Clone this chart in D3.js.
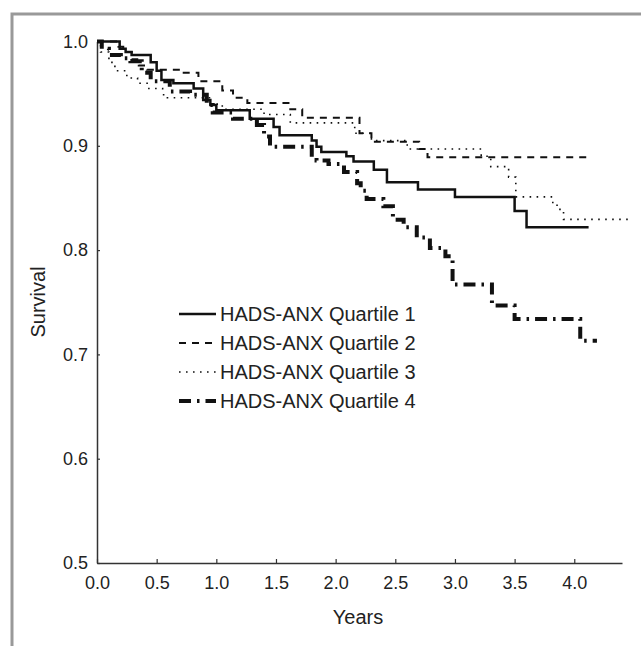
<!DOCTYPE html>
<html>
<head>
<meta charset="utf-8">
<script src="https://cdn.jsdelivr.net/npm/d3@7"></script>
<style>
  body { margin: 0; background: #fff; }
  text { font-family: "Liberation Sans", Arial, sans-serif; fill: #222; }
</style>
</head>
<body>
<script>
// Kaplan-Meier steps: [years], [survival after step]
var q1Years = [0, 0.19, 0.24, 0.29, 0.45, 0.50, 0.54, 0.64, 0.81, 0.89, 0.95, 1.00, 1.28, 1.48, 1.53, 1.80, 1.84, 1.88, 2.09, 2.15, 2.32, 2.43, 2.69, 3.00, 3.50, 3.60, 4.12];
var q1Surv  = [1.0, 0.993, 0.990, 0.987, 0.980, 0.972, 0.963, 0.960, 0.955, 0.944, 0.939, 0.934, 0.926, 0.918, 0.910, 0.905, 0.899, 0.894, 0.890, 0.885, 0.877, 0.865, 0.858, 0.851, 0.8375, 0.822, 0.822];

var q2Years = [0, 0.18, 0.22, 0.29, 0.35, 0.42, 0.71, 0.85, 1.05, 1.14, 1.26, 1.62, 1.72, 2.20, 2.30, 2.70, 2.77, 4.11];
var q2Surv  = [1.0, 0.995, 0.990, 0.983, 0.977, 0.973, 0.970, 0.962, 0.953, 0.946, 0.941, 0.935, 0.927, 0.912, 0.904, 0.897, 0.889, 0.889];

var q3Years = [0, 0.03, 0.10, 0.15, 0.25, 0.34, 0.42, 0.55, 0.59, 0.95, 1.05, 1.40, 1.62, 2.16, 2.30, 2.60, 3.22, 3.30, 3.45, 3.51, 3.82, 3.88, 3.91, 4.45];
var q3Surv  = [1.0, 0.990, 0.980, 0.972, 0.965, 0.960, 0.955, 0.949, 0.946, 0.940, 0.935, 0.930, 0.922, 0.912, 0.905, 0.897, 0.890, 0.880, 0.870, 0.851, 0.843, 0.837, 0.8295, 0.8295];

var q4Years = [0, 0.04, 0.10, 0.20, 0.28, 0.375, 0.45, 0.61, 0.78, 0.92, 0.97, 1.14, 1.34, 1.40, 1.45, 1.80, 1.84, 1.94, 2.07, 2.18, 2.21, 2.26, 2.40, 2.48, 2.57, 2.68, 2.79, 2.92, 2.98, 3.31, 3.50, 4.05, 4.19];
var q4Surv  = [1.0, 0.993, 0.987, 0.984, 0.981, 0.970, 0.962, 0.952, 0.949, 0.939, 0.932, 0.926, 0.920, 0.909, 0.899, 0.889, 0.886, 0.8825, 0.875, 0.864, 0.857, 0.849, 0.842, 0.829, 0.822, 0.812, 0.802, 0.794, 0.767, 0.747, 0.734, 0.713, 0.713];

var legendLabels = ["HADS-ANX Quartile 1", "HADS-ANX Quartile 2", "HADS-ANX Quartile 3", "HADS-ANX Quartile 4"];
var xTicks = [0, 0.5, 1.0, 1.5, 2.0, 2.5, 3.0, 3.5, 4.0];
var yTicks = [0.5, 0.6, 0.7, 0.8, 0.9, 1.0];

var KM = {};    // chart scope

// line look per quartile
KM.styles = [
    { width: 2.5, dash: null },
    { width: 2, dash: "7,6" },
    { width: 1.6, dash: "1.6,5.4" },
    { width: 4, dash: "12,6,2.5,6" }
];

KM.svg = d3.select("body").append("svg")
    .attr("width", 641)
    .attr("height", 646);

// grey frame, only top & left edges show
KM.svg.append("rect")
    .attr("x", 12).attr("y", 14)
    .attr("width", 700).attr("height", 700)
    .style("fill", "none")
    .style("stroke", "#999")
    .style("stroke-width", 3);

KM.x = d3.scaleLinear().domain([0, 4.4]).range([97, 622]);
KM.y = d3.scaleLinear().domain([0.5, 1.0]).range([563, 41.5]);

/* axes */
KM.xAxis = KM.svg.append("g")
    .attr("transform", "translate(0,563)")
    .call(d3.axisBottom(KM.x)
        .tickValues(xTicks)
        .tickFormat(d3.format(".1f"))
        .tickSizeInner(-4)
        .tickSizeOuter(0)
        .tickPadding(13));

KM.yAxis = KM.svg.append("g")
    .attr("transform", "translate(97,0)")
    .call(d3.axisLeft(KM.y)
        .tickValues(yTicks)
        .tickFormat(d3.format(".1f"))
        .tickSizeInner(-3)
        .tickSizeOuter(0)
        .tickPadding(9));

KM.svg.selectAll(".domain")
    .style("stroke", "#333")
    .style("stroke-width", 1.5);
KM.svg.selectAll(".tick line")
    .style("stroke", "#333")
    .style("stroke-width", 1.2);
KM.svg.selectAll(".tick text")
    .style("font-size", "18px")
    .style("font-family", "'Liberation Sans', Arial, sans-serif")
    .style("fill", "#222");

KM.svg.append("text")
    .attr("x", 358).attr("y", 624)
    .attr("text-anchor", "middle")
    .style("font-size", "20px")
    .text("Years");

KM.svg.append("text")
    .attr("transform", "translate(45,302) rotate(-90)")
    .attr("text-anchor", "middle")
    .style("font-size", "20px")
    .text("Survival");

/* survival curves */
KM.series = [
    d3.zip(q1Years, q1Surv),
    d3.zip(q2Years, q2Surv),
    d3.zip(q3Years, q3Surv),
    d3.zip(q4Years, q4Surv)
];

KM.line = d3.line()
    .curve(d3.curveStepAfter)
    .x(function(d) { return KM.x(d[0]); })
    .y(function(d) { return KM.y(d[1]); });

KM.svg.append("g").selectAll("path")
    .data(KM.series)
    .enter()
    .append("path")
    .attr("d", KM.line)
    .style("fill", "none")
    .style("stroke", "#111")
    .style("stroke-width", function(d, i) { return KM.styles[i].width; })
    .style("stroke-dasharray", function(d, i) { return KM.styles[i].dash; });

/* legend */
KM.legend = KM.svg.append("g").selectAll("g")
    .data(legendLabels)
    .enter()
    .append("g")
    .attr("transform", function(d, i) { return "translate(179," + (314 + i * 29) + ")"; });

KM.legend.append("line")
    .attr("x1", 0).attr("x2", 37)
    .style("stroke", "#111")
    .style("stroke-width", function(d, i) { return KM.styles[i].width; })
    .style("stroke-dasharray", function(d, i) { return KM.styles[i].dash; });

KM.legend.append("text")
    .attr("x", 41)
    .attr("dy", "0.35em")
    .style("font-size", "20px")
    .text(function(d) { return d; });
</script>
</body>
</html>
